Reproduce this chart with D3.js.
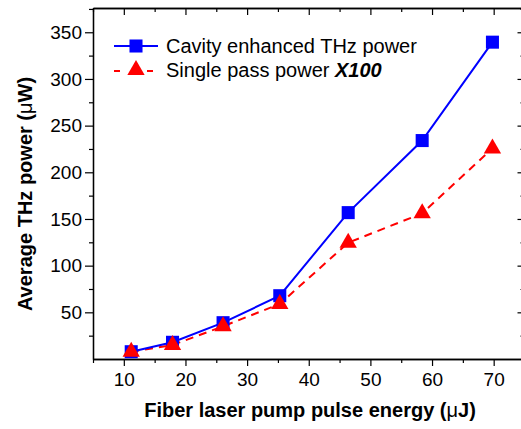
<!DOCTYPE html>
<html>
<head>
<meta charset="utf-8">
<script src="https://cdn.jsdelivr.net/npm/d3@7"></script>
<style>
  body { margin: 0; background: white; }
  text { font-family: Arial, "Liberation Sans", sans-serif; }
</style>
</head>
<body>
<div id="myGraph"></div>
<script>
// pump energy (uJ) for each measurement
const pumpEnergy = [11.2, 17.9, 26.1, 35.3, 46.4, 58.4, 69.8];

// cavity enhanced THz power (uW)
const cavityPower = [7.8, 17.9, 38.9, 67.8, 156.8, 234, 339.4];

// single pass power, already multiplied by 100
const singlePower = [7.8, 15, 35, 59, 124.6, 156, 225.6];

const xTicks = [10, 20, 30, 40, 50, 60, 70];
const yTicks = [50, 100, 150, 200, 250, 300, 350];

const width = 521;
const height = 429;

// plot frame, measured off the original figure
// (can't call it "top", the browser already has window.top)
const frameLeft = 93, frameRight = 524.5, frameTop = 8, frameBottom = 359;

const xScale = d3.scaleLinear().domain([5, 75]).range([frameLeft, frameRight]);
const yScale = d3.scaleLinear().domain([0, 376]).range([frameBottom, frameTop]);

let svg = d3.select('#myGraph')
    .append('svg')
        .attr('width', width)
        .attr('height', height);

// minor ticks sit halfway between the majors
const xMinor = d3.range(5, 76, 10);
const yMinor = d3.range(25, 376, 50);

// bottom axis, ticks out
svg.append('g')
    .attr('transform', `translate(0, ${frameBottom})`)
    .call(d3.axisBottom(xScale).tickValues(xTicks).tickSize(7).tickSizeOuter(0).tickPadding(7));
svg.append('g')
    .attr('transform', `translate(0, ${frameBottom})`)
    .call(d3.axisBottom(xScale).tickValues(xMinor).tickSize(4).tickSizeOuter(0).tickFormat(''));

// left axis, ticks out
svg.append('g')
    .attr('transform', `translate(${frameLeft}, 0)`)
    .call(d3.axisLeft(yScale).tickValues(yTicks).tickSize(8).tickSizeOuter(0).tickPadding(3));
svg.append('g')
    .attr('transform', `translate(${frameLeft}, 0)`)
    .call(d3.axisLeft(yScale).tickValues(yMinor).tickSize(4).tickSizeOuter(0).tickFormat(''));

// top and right, ticks point in and no labels
svg.append('g')
    .attr('transform', `translate(0, ${frameTop})`)
    .call(d3.axisBottom(xScale).tickValues(xTicks).tickSize(7).tickSizeOuter(0).tickFormat(''));
svg.append('g')
    .attr('transform', `translate(0, ${frameTop})`)
    .call(d3.axisBottom(xScale).tickValues(xMinor).tickSize(4).tickSizeOuter(0).tickFormat(''));
svg.append('g')
    .attr('transform', `translate(${frameRight}, 0)`)
    .call(d3.axisLeft(yScale).tickValues(yTicks).tickSize(7).tickSizeOuter(0).tickFormat(''));
svg.append('g')
    .attr('transform', `translate(${frameRight}, 0)`)
    .call(d3.axisLeft(yScale).tickValues(yMinor).tickSize(4).tickSizeOuter(0).tickFormat(''));

svg.selectAll('.domain').attr('stroke', '#000').attr('stroke-width', 1.3);
svg.selectAll('.tick line').attr('stroke', '#000').attr('stroke-width', 1.2);
svg.selectAll('.tick text')
    .attr('font-size', 19)
    .attr('font-family', 'Arial, "Liberation Sans", sans-serif')
    .attr('fill', '#000');

// series lines
const cavityData = pumpEnergy.map((e, i) => ({x: e, y: cavityPower[i]}));
const singleData = pumpEnergy.map((e, i) => ({x: e, y: singlePower[i]}));

const line = d3.line().x((d) => xScale(d.x)).y((d) => yScale(d.y));

svg.append('path')
    .datum(singleData)
    .attr('d', line)
    .attr('fill', 'none')
    .attr('stroke', '#ff0000')
    .attr('stroke-width', 2)
    .attr('stroke-dasharray', '8,6');

svg.append('path')
    .datum(cavityData)
    .attr('d', line)
    .attr('fill', 'none')
    .attr('stroke', '#0000ff')
    .attr('stroke-width', 2);

const squareSym = d3.symbol().type(d3.symbolSquare).size(170);
const triSym = d3.symbol().type(d3.symbolTriangle).size(130);

svg.selectAll('.sq')
    .data(cavityData)
    .enter()
        .append('path')
            .attr('class', 'sq')
            .attr('d', squareSym)
            .attr('transform', (d) => `translate(${xScale(d.x)}, ${yScale(d.y)})`)
            .attr('fill', '#0000ff');

svg.selectAll('.tri')
    .data(singleData)
    .enter()
        .append('path')
            .attr('class', 'tri')
            .attr('d', triSym)
            .attr('transform', (d) => `translate(${xScale(d.x)}, ${yScale(d.y)})`)
            .attr('fill', '#ff0000');

// legend
let legend = svg.append('g');

legend.append('line')
    .attr('x1', 114).attr('x2', 158).attr('y1', 46).attr('y2', 46)
    .attr('stroke', '#0000ff').attr('stroke-width', 2);
legend.append('path')
    .attr('d', squareSym)
    .attr('transform', 'translate(136, 46)')
    .attr('fill', '#0000ff');
legend.append('text')
    .attr('x', 166).attr('y', 53)
    .attr('font-size', 20)
    .text('Cavity enhanced THz power');

legend.append('line')
    .attr('x1', 114).attr('x2', 158).attr('y1', 71).attr('y2', 71)
    .attr('stroke', '#ff0000').attr('stroke-width', 2)
    .attr('stroke-dasharray', '6,27');
legend.append('path')
    .attr('d', triSym)
    .attr('transform', 'translate(136, 70)')
    .attr('fill', '#ff0000');
let t2 = legend.append('text')
    .attr('x', 166).attr('y', 77)
    .attr('font-size', 20);
t2.append('tspan').text('Single pass power ');
t2.append('tspan').attr('font-weight', 'bold').attr('font-style', 'italic').text('X100');

// axis titles
let xt = svg.append('text')
    .attr('x', 310).attr('y', 417)
    .attr('text-anchor', 'middle')
    .attr('font-size', 20)
    .attr('font-weight', 'bold');
xt.append('tspan').text('Fiber laser pump pulse energy (');
xt.append('tspan').attr('font-weight', 'normal').text('\u03bc');
xt.append('tspan').text('J)');

let yt = svg.append('text')
    .attr('transform', 'translate(32, 194) rotate(-90)')
    .attr('text-anchor', 'middle')
    .attr('font-size', 20)
    .attr('font-weight', 'bold');
yt.append('tspan').text('Average THz power (');
yt.append('tspan').attr('font-weight', 'normal').text('\u03bc');
yt.append('tspan').text('W)');
</script>
</body>
</html>
